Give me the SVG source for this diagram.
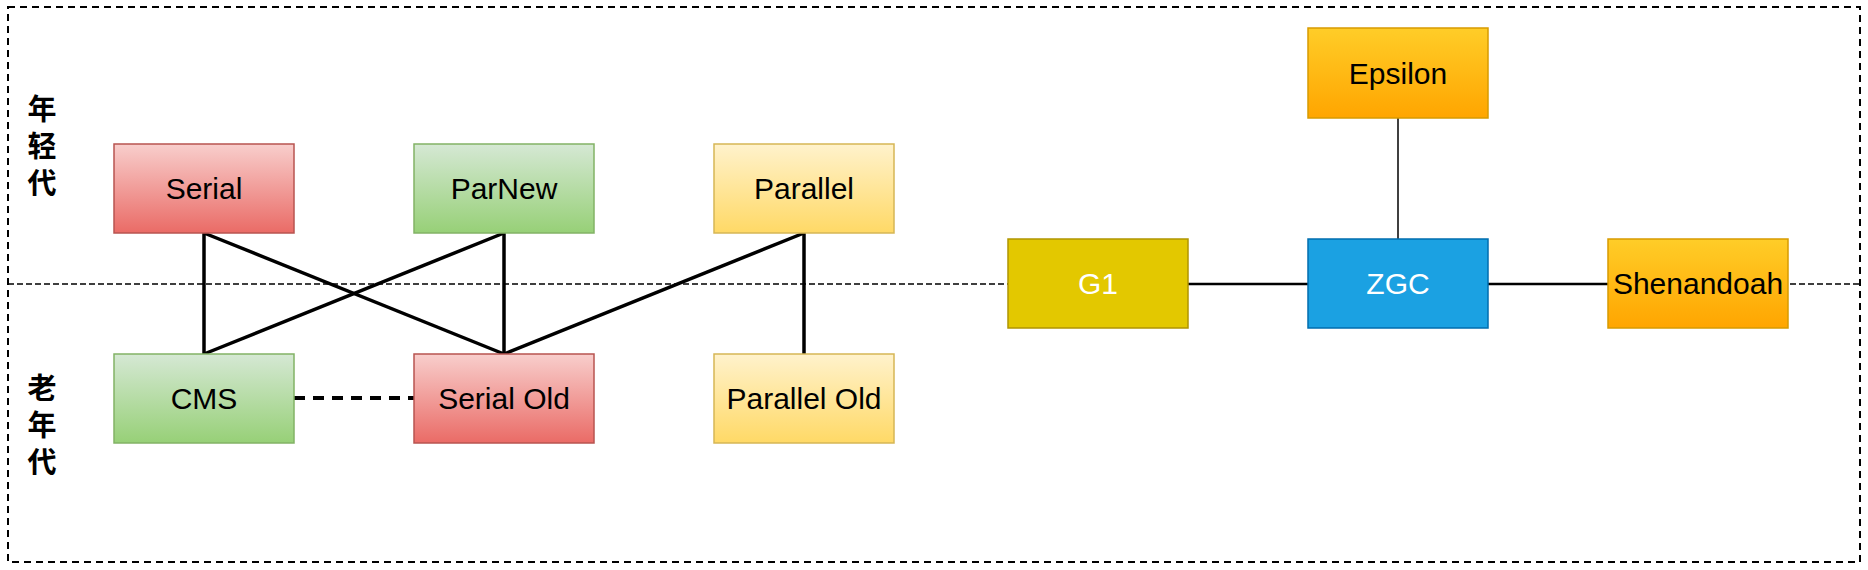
<svg xmlns="http://www.w3.org/2000/svg" width="1868" height="570" viewBox="0 0 1868 570">
<defs>
<linearGradient id="gRed" x1="0" y1="0" x2="0" y2="1"><stop offset="0" stop-color="#f8cecc"/><stop offset="1" stop-color="#ea6b66"/></linearGradient>
<linearGradient id="gGreen" x1="0" y1="0" x2="0" y2="1"><stop offset="0" stop-color="#d5e8d4"/><stop offset="1" stop-color="#97d077"/></linearGradient>
<linearGradient id="gYellow" x1="0" y1="0" x2="0" y2="1"><stop offset="0" stop-color="#fff2cc"/><stop offset="1" stop-color="#ffd966"/></linearGradient>
<linearGradient id="gOrange" x1="0" y1="0" x2="0" y2="1"><stop offset="0" stop-color="#ffcd28"/><stop offset="1" stop-color="#ffa500"/></linearGradient>
</defs>
<style>
.lbl{font-family:"Liberation Sans",Arial,"Noto Sans CJK SC",sans-serif;font-size:30px;text-anchor:middle;fill:#000}
.white{fill:#fff}
.cjk{font-family:"Noto Sans CJK SC","Liberation Sans",sans-serif;font-size:29px;font-weight:bold;fill:#000;writing-mode:vertical-rl;letter-spacing:8px}
.red{fill:url(#gRed);stroke:#b85450;stroke-width:1.5}
.green{fill:url(#gGreen);stroke:#82b366;stroke-width:1.5}
.yellow{fill:url(#gYellow);stroke:#d6b656;stroke-width:1.5}
.orange{fill:url(#gOrange);stroke:#d79b00;stroke-width:1.5}
.g1{fill:#e3c800;stroke:#b09500;stroke-width:1.5}
.zgc{fill:#1ba1e2;stroke:#006eaf;stroke-width:1.5}
.thick{stroke:#000;stroke-width:3.5;fill:none}
</style>
<rect width="1868" height="570" fill="#fff"/>
<g id="frame">
<rect x="8" y="7" width="1852" height="555" fill="none" stroke="#000" stroke-width="2" stroke-dasharray="7 5"/>
<line x1="8" y1="284" x2="1860" y2="284" stroke="#000" stroke-width="1.5" stroke-dasharray="6 3"/>
</g>
<g id="labels">
<text class="cjk" x="42" y="94">年轻代</text>
<text class="cjk" x="42" y="373">老年代</text>
</g>
<g id="connectors">
<line class="thick" x1="204" y1="233" x2="204" y2="354"/>
<line class="thick" x1="204" y1="233" x2="504" y2="354"/>
<line class="thick" x1="504" y1="233" x2="204" y2="354"/>
<line class="thick" x1="504" y1="233" x2="504" y2="354"/>
<line class="thick" x1="804" y1="233" x2="504" y2="354"/>
<line class="thick" x1="804" y1="233" x2="804" y2="354"/>
<line x1="294" y1="398" x2="414" y2="398" stroke="#000" stroke-width="4" stroke-dasharray="11 8"/>
<line x1="1398" y1="118" x2="1398" y2="239" stroke="#000" stroke-width="1.5"/>
<line x1="1188" y1="284" x2="1308" y2="284" stroke="#000" stroke-width="2.5"/>
<line x1="1488" y1="284" x2="1608" y2="284" stroke="#000" stroke-width="2.5"/>
</g>
<g id="serial"><rect class="red" x="114" y="144" width="180" height="89"/><text class="lbl" x="204" y="199">Serial</text></g>
<g id="parnew"><rect class="green" x="414" y="144" width="180" height="89"/><text class="lbl" x="504" y="199">ParNew</text></g>
<g id="parallel"><rect class="yellow" x="714" y="144" width="180" height="89"/><text class="lbl" x="804" y="199">Parallel</text></g>
<g id="cms"><rect class="green" x="114" y="354" width="180" height="89"/><text class="lbl" x="204" y="409">CMS</text></g>
<g id="serialold"><rect class="red" x="414" y="354" width="180" height="89"/><text class="lbl" x="504" y="409">Serial Old</text></g>
<g id="parallelold"><rect class="yellow" x="714" y="354" width="180" height="89"/><text class="lbl" x="804" y="409">Parallel Old</text></g>
<g id="g1"><rect class="g1" x="1008" y="239" width="180" height="89"/><text class="lbl white" x="1098" y="294">G1</text></g>
<g id="zgc"><rect class="zgc" x="1308" y="239" width="180" height="89"/><text class="lbl white" x="1398" y="294">ZGC</text></g>
<g id="shenandoah"><rect class="orange" x="1608" y="239" width="180" height="89"/><text class="lbl" x="1698" y="294">Shenandoah</text></g>
<g id="epsilon"><rect class="orange" x="1308" y="28" width="180" height="90"/><text class="lbl" x="1398" y="84">Epsilon</text></g>
</svg>
